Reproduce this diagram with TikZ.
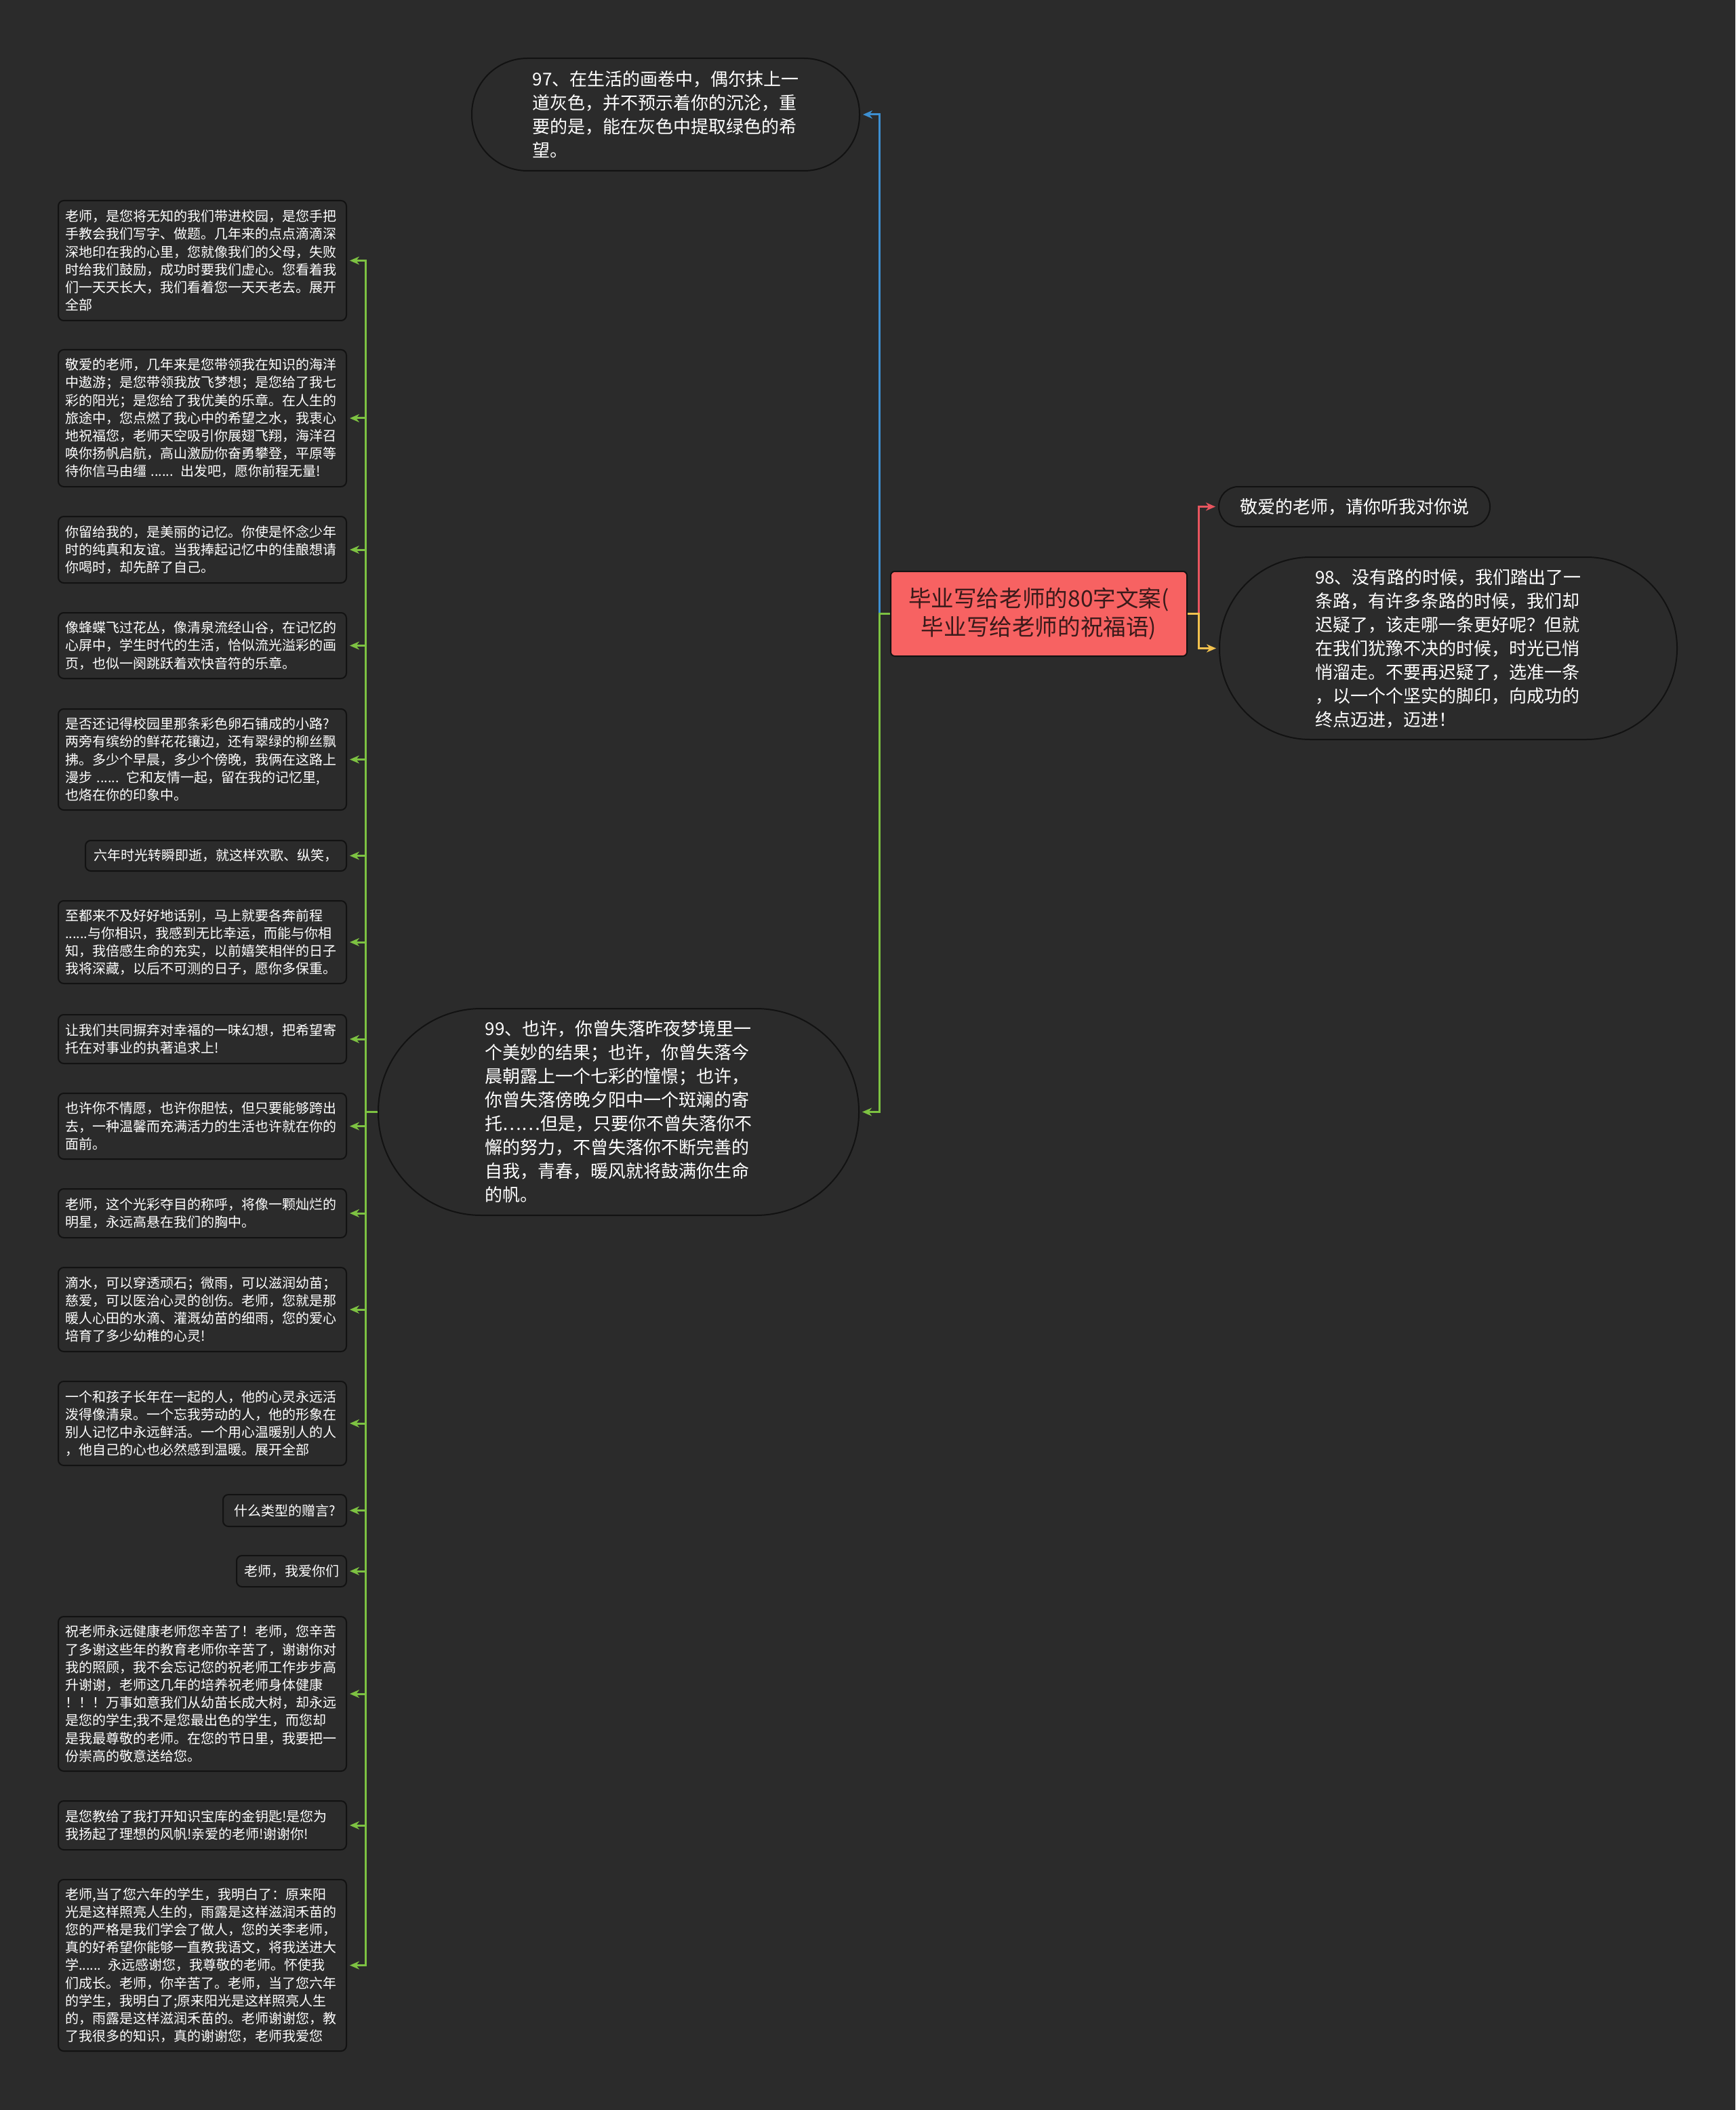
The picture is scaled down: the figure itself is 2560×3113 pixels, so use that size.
\documentclass[tikz,border=0pt]{standalone}
\usepackage{fontspec}
\setmainfont{Noto Sans CJK SC}
\usetikzlibrary{arrows.meta}
\definecolor{bgc}{HTML}{2B2B2B}
\definecolor{bord}{HTML}{121212}
\definecolor{rootfill}{HTML}{F76262}
\definecolor{roottext}{HTML}{3A1A1A}
\definecolor{cblue}{HTML}{3D8FD1}
\definecolor{cgreen}{HTML}{7DC242}
\definecolor{cred}{HTML}{E8555F}
\definecolor{cyellow}{HTML}{F2C14E}
\begin{document}
\begin{tikzpicture}[x=0.5pt,y=-0.5pt,
  leaf/.style={draw=bord, line width=1pt, fill=bgc, rounded corners=4pt, text=white, align=left, inner sep=0pt, anchor=north east, font=\fontsize{10pt}{13.1pt}\selectfont},
  wleaf/.style={leaf, minimum width=212.5pt, text width=202.5pt},
  stad/.style={draw=bord, line width=1pt, fill=bgc, text=white, align=left, inner sep=0pt, font=\fontsize{13pt}{17.5pt}\selectfont},
  rootbox/.style={draw=bord, line width=1pt, fill=rootfill, text=roottext, align=center, inner sep=0pt, rounded corners=3pt, font=\fontsize{16.8pt}{21pt}\selectfont},
  conn/.style={line width=1.5pt, -{Stealth[length=7pt,width=6pt]}, shorten >=2pt}]
\fill[bgc] (0,0) rectangle (2560,3113);
\useasboundingbox (0,0) rectangle (2560,3113);

% root
\node[rootbox, minimum width=218.5pt, minimum height=62.5pt] (c) at (1532.5,905.5) {毕业写给老师的80字文案(\\毕业写给老师的祝福语)};

% first-level
\node[stad, minimum width=286pt, minimum height=83pt, rounded corners=41pt] (n97) at (982,169) {97、在生活的画卷中，偶尔抹上一\\道灰色，并不预示着你的沉沦，重\\要的是，能在灰色中提取绿色的希\\望。};
\node[stad, minimum width=200pt, minimum height=29.5pt, rounded corners=14.5pt, align=center] (r1) at (1998,747.5) {敬爱的老师，请你听我对你说};
\node[stad, minimum width=337.5pt, minimum height=134.5pt, rounded corners=67pt] (n98) at (2136.5,956.5) {98、没有路的时候，我们踏出了一\\条路，有许多条路的时候，我们却\\迟疑了，该走哪一条更好呢？但就\\在我们犹豫不决的时候，时光已悄\\悄溜走。不要再迟疑了，选准一条\\，以一个个坚实的脚印，向成功的\\终点迈进，迈进！};
\node[stad, minimum width=354.5pt, minimum height=152.5pt, rounded corners=76pt] (n99) at (912.5,1640.5) {99、也许，你曾失落昨夜梦境里一\\个美妙的结果；也许，你曾失落今\\晨朝露上一个七彩的憧憬；也许，\\你曾失落傍晚夕阳中一个斑斓的寄\\托……但是，只要你不曾失落你不\\懈的努力，不曾失落你不断完善的\\自我，青春，暖风就将鼓满你生命\\的帆。};

% leaves
\node[wleaf, minimum height=88.5pt] (l1) at (512,295) {老师，是您将无知的我们带进校园，是您手把\\手教会我们写字、做题。几年来的点点滴滴深\\深地印在我的心里，您就像我们的父母，失败\\时给我们鼓励，成功时要我们虚心。您看着我\\们一天天长大，我们看着您一天天老去。展开\\全部};
\node[wleaf, minimum height=101pt] (l2) at (512,515) {敬爱的老师，几年来是您带领我在知识的海洋\\中遨游；是您带领我放飞梦想；是您给了我七\\彩的阳光；是您给了我优美的乐章。在人生的\\旅途中，您点燃了我心中的希望之水，我衷心\\地祝福您，老师天空吸引你展翅飞翔，海洋召\\唤你扬帆启航，高山激励你奋勇攀登，平原等\\待你信马由缰 ...... 出发吧，愿你前程无量!};
\node[wleaf, minimum height=49pt] (l3) at (512,761) {你留给我的，是美丽的记忆。你使是怀念少年\\时的纯真和友谊。当我捧起记忆中的佳酿想请\\你喝时，却先醉了自己。};
\node[wleaf, minimum height=48.5pt] (l4) at (512,903) {像蜂蝶飞过花丛，像清泉流经山谷，在记忆的\\心屏中，学生时代的生活，恰似流光溢彩的画\\页，也似一阕跳跃着欢快音符的乐章。};
\node[wleaf, minimum height=74.5pt] (l5) at (512,1045) {是否还记得校园里那条彩色卵石铺成的小路?\\两旁有缤纷的鲜花花镶边，还有翠绿的柳丝飘\\拂。多少个早晨，多少个傍晚，我俩在这路上\\漫步 ...... 它和友情一起，留在我的记忆里,\\也烙在你的印象中。};
\node[leaf, minimum width=192.5pt, minimum height=22.5pt, align=center] (l6) at (512,1239) {六年时光转瞬即逝，就这样欢歌、纵笑，};
\node[wleaf, minimum height=61pt] (l7) at (512,1328) {至都来不及好好地话别，马上就要各奔前程\\......与你相识，我感到无比幸运，而能与你相\\知，我倍感生命的充实，以前嬉笑相伴的日子\\我将深藏，以后不可测的日子，愿你多保重。};
\node[wleaf, minimum height=36pt] (l8) at (512,1496) {让我们共同摒弃对幸福的一味幻想，把希望寄\\托在对事业的执著追求上!};
\node[wleaf, minimum height=48.5pt] (l9) at (512,1612) {也许你不情愿，也许你胆怯，但只要能够跨出\\去，一种温馨而充满活力的生活也许就在你的\\面前。};
\node[wleaf, minimum height=36pt] (l10) at (512,1753) {老师，这个光彩夺目的称呼，将像一颗灿烂的\\明星，永远高悬在我们的胸中。};
\node[wleaf, minimum height=62pt] (l11) at (512,1869) {滴水，可以穿透顽石；微雨，可以滋润幼苗；\\慈爱，可以医治心灵的创伤。老师，您就是那\\暖人心田的水滴、灌溉幼苗的细雨，您的爱心\\培育了多少幼稚的心灵!};
\node[wleaf, minimum height=62pt] (l12) at (512,2037) {一个和孩子长年在一起的人，他的心灵永远活\\泼得像清泉。一个忘我劳动的人，他的形象在\\别人记忆中永远鲜活。一个用心温暖别人的人\\，他自己的心也必然感到温暖。展开全部};
\node[leaf, minimum width=91pt, minimum height=23.5pt, align=center] (l13) at (512,2204) {什么类型的赠言?};
\node[leaf, minimum width=81pt, minimum height=23pt, align=center] (l14) at (512,2294) {老师，我爱你们};
\node[wleaf, minimum height=114pt] (l15) at (512,2384) {祝老师永远健康老师您辛苦了！老师，您辛苦\\了多谢这些年的教育老师你辛苦了，谢谢你对\\我的照顾，我不会忘记您的祝老师工作步步高\\升谢谢，老师这几年的培养祝老师身体健康\\！！！万事如意我们从幼苗长成大树，却永远\\是您的学生;我不是您最出色的学生，而您却\\是我最尊敬的老师。在您的节日里，我要把一\\份崇高的敬意送给您。};
\node[wleaf, minimum height=36pt] (l16) at (512,2656) {是您教给了我打开知识宝库的金钥匙!是您为\\我扬起了理想的风帆!亲爱的老师!谢谢你!};
\node[wleaf, minimum height=126.5pt] (l17) at (512,2772) {老师,当了您六年的学生，我明白了：原来阳\\光是这样照亮人生的，雨露是这样滋润禾苗的\\您的严格是我们学会了做人，您的关李老师，\\真的好希望你能够一直教我语文，将我送进大\\学...... 永远感谢您，我尊敬的老师。怀使我\\们成长。老师，你辛苦了。老师，当了您六年\\的学生，我明白了;原来阳光是这样照亮人生\\的，雨露是这样滋润禾苗的。老师谢谢您，教\\了我很多的知识，真的谢谢您，老师我爱您};

% junctions
\coordinate (jl) at (1297,905.5);
\coordinate (jr) at (1768,905.5);
\coordinate (jt) at (539,1640.5);

% connectors
\draw[conn, cblue] (c.west) -- (jl) |- (n97.east);
\draw[conn, cgreen] (c.west) -- (jl) |- (n99.east);
\draw[conn, cred] (c.east) -- (jr) |- (r1.west);
\draw[conn, cyellow] (c.east) -- (jr) |- (n98.west);
\foreach \l in {l1,l2,l3,l4,l5,l6,l7,l8,l9,l10,l11,l12,l13,l14,l15,l16,l17}
  \draw[conn, cgreen] (n99.west) -- (jt) |- (\l.east);
\end{tikzpicture}
\end{document}
